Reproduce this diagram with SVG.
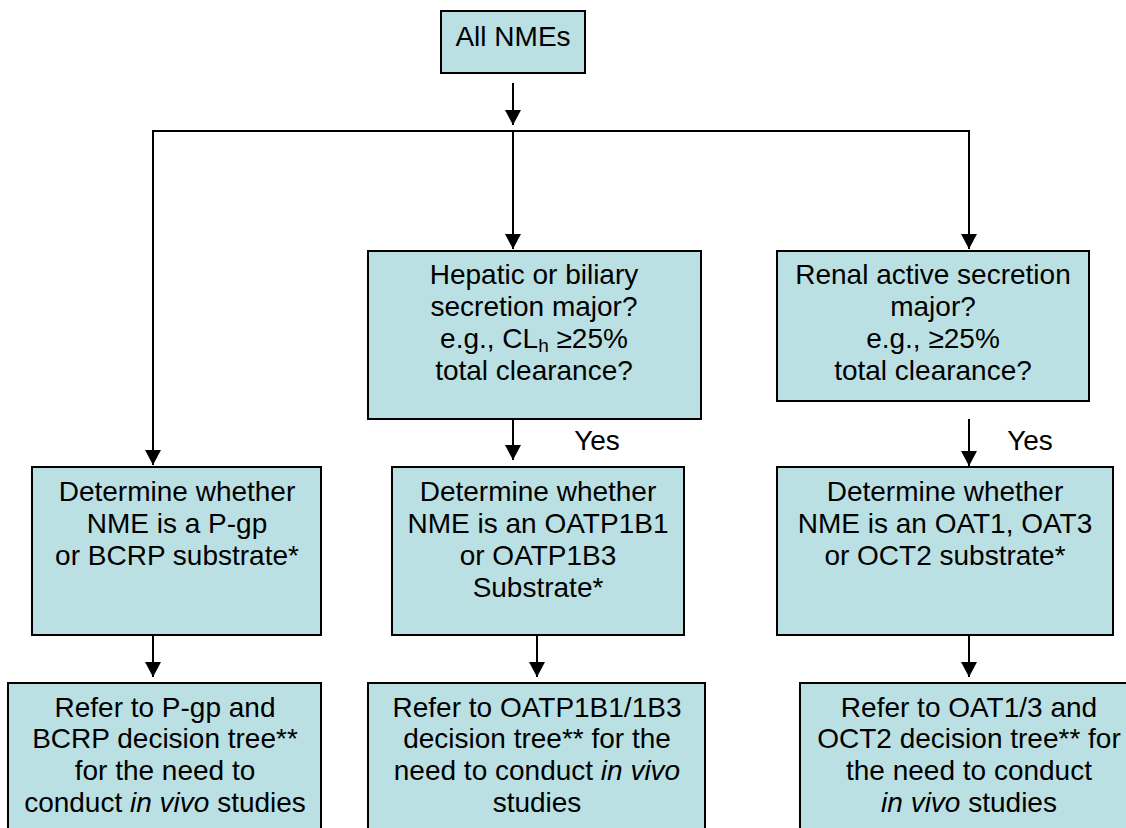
<svg xmlns="http://www.w3.org/2000/svg" width="1126" height="828" viewBox="0 0 1126 828">
<style>
.box{fill:#BBE0E3;stroke:#000;stroke-width:2}
.t{font-family:"Liberation Sans",Arial,sans-serif;font-size:28px;fill:#000;text-anchor:middle}
.c{stroke:#000;stroke-width:2;fill:none}
.i{font-style:italic}
</style>
<defs>
<marker id="ah" markerUnits="userSpaceOnUse" markerWidth="16" markerHeight="16" viewBox="0 0 16 16" refX="15" refY="8" orient="auto">
<path d="M0,0 L15,8 L0,16 Z" fill="#000"/>
</marker>
</defs>
<rect width="1126" height="828" fill="#fff"/>
<g id="connectors">
<line class="c" x1="513" y1="83" x2="513" y2="125" marker-end="url(#ah)"/>
<line class="c" x1="152" y1="131" x2="970" y2="131"/>
<line class="c" x1="153" y1="131" x2="153" y2="465" marker-end="url(#ah)"/>
<line class="c" x1="513" y1="131" x2="513" y2="249" marker-end="url(#ah)"/>
<line class="c" x1="969" y1="131" x2="969" y2="249" marker-end="url(#ah)"/>
<line class="c" x1="513" y1="419" x2="513" y2="460" marker-end="url(#ah)"/>
<line class="c" x1="969" y1="419" x2="969" y2="466" marker-end="url(#ah)"/>
<line class="c" x1="153" y1="635" x2="153" y2="677" marker-end="url(#ah)"/>
<line class="c" x1="537" y1="635" x2="537" y2="677" marker-end="url(#ah)"/>
<line class="c" x1="969" y1="635" x2="969" y2="677" marker-end="url(#ah)"/>
<text class="t" x="597" y="450">Yes</text>
<text class="t" x="1030" y="450">Yes</text>
</g>
<g id="all-nmes">
<rect class="box" x="441" y="11" width="144" height="62"/>
<text class="t" x="513" y="46">All NMEs</text>
</g>
<g id="hepatic">
<rect class="box" x="368" y="251" width="333" height="168"/>
<text class="t" x="534" y="284">Hepatic or biliary</text>
<text class="t" x="534" y="316">secretion major?</text>
<text class="t" x="534" y="348">e.g., CL<tspan font-size="19" dy="4">h</tspan><tspan dy="-4"> ≥25%</tspan></text>
<text class="t" x="534" y="380">total clearance?</text>
</g>
<g id="renal">
<rect class="box" x="777" y="251" width="312" height="150"/>
<text class="t" x="933" y="284">Renal active secretion</text>
<text class="t" x="933" y="316">major?</text>
<text class="t" x="933" y="348">e.g., ≥25%</text>
<text class="t" x="933" y="380">total clearance?</text>
</g>
<g id="pgp">
<rect class="box" x="32" y="467" width="289" height="168"/>
<text class="t" x="177" y="501">Determine whether</text>
<text class="t" x="177" y="533">NME is a P-gp</text>
<text class="t" x="177" y="565">or BCRP substrate*</text>
</g>
<g id="oatp">
<rect class="box" x="392" y="467" width="292" height="168"/>
<text class="t" x="538" y="501">Determine whether</text>
<text class="t" x="538" y="533">NME is an OATP1B1</text>
<text class="t" x="538" y="565">or OATP1B3</text>
<text class="t" x="538" y="597">Substrate*</text>
</g>
<g id="oat">
<rect class="box" x="777" y="467" width="336" height="168"/>
<text class="t" x="945" y="501">Determine whether</text>
<text class="t" x="945" y="533">NME is an OAT1, OAT3</text>
<text class="t" x="945" y="565">or OCT2 substrate*</text>
</g>
<g id="pgp-tree">
<rect class="box" x="8" y="683" width="313" height="160"/>
<text class="t" x="165" y="717">Refer to P-gp and</text>
<text class="t" x="165" y="748">BCRP decision tree**</text>
<text class="t" x="165" y="780">for the need to</text>
<text class="t" x="165" y="812">conduct <tspan class="i">in vivo</tspan> studies</text>
</g>
<g id="oatp-tree">
<rect class="box" x="368" y="683" width="337" height="160"/>
<text class="t" x="537" y="717">Refer to OATP1B1/1B3</text>
<text class="t" x="537" y="748">decision tree** for the</text>
<text class="t" x="537" y="780">need to conduct <tspan class="i">in vivo</tspan></text>
<text class="t" x="537" y="812">studies</text>
</g>
<g id="oat-tree">
<rect class="box" x="800" y="683" width="340" height="160"/>
<text class="t" x="969" y="717">Refer to OAT1/3 and</text>
<text class="t" x="969" y="748">OCT2 decision tree** for</text>
<text class="t" x="969" y="780">the need to conduct</text>
<text class="t" x="969" y="812"><tspan class="i">in vivo</tspan> studies</text>
</g>
</svg>
